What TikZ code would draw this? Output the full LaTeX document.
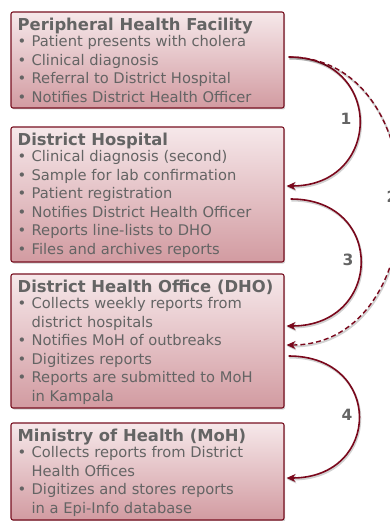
\documentclass[tikz,border=0pt]{standalone}
\usepackage{fontspec}
\setmainfont{DejaVu Sans}
\usetikzlibrary{shadows,arrows.meta,calc}
\definecolor{boxborder}{RGB}{120,16,32}
\definecolor{boxtop}{RGB}{246,232,234}
\definecolor{boxbot}{RGB}{210,155,161}
\definecolor{txt}{RGB}{100,100,100}
\definecolor{arr}{RGB}{122,8,28}
\newcommand{\itm}[1]{\makebox[14pt][l]{•}#1\par}
\newcommand{\cnt}[1]{\hspace*{14pt}#1\par}
\newcommand{\boxtext}[2]{\parbox[t]{300pt}{\parindent=0pt\parskip=0pt{\fontsize{16.4}{18}\bfseries\selectfont #1\par}\vspace{-2.5pt}\fontsize{14.7}{18.5}\selectfont #2}}
\tikzset{
  stage/.style={draw=boxborder, line width=1.1pt, rounded corners=2pt,
    top color=boxtop, bottom color=boxbot, minimum width=273pt, inner sep=0pt,
    drop shadow={shadow xshift=1.2pt, shadow yshift=-1.5pt, opacity=0.35}},
  stagetext/.style={anchor=base west, inner sep=0pt, text=txt},
  flow/.style={draw=arr, line width=1.6pt, -{Stealth[length=9pt,width=8pt]},
    preaction={draw=black, opacity=0.18, line width=2pt, transform canvas={xshift=0.8pt,yshift=-1.5pt}}},
  lbl/.style={font=\bfseries\fontsize{15.5}{15.5}\selectfont, text=txt}
}
\begin{document}
\begin{tikzpicture}[x=1pt,y=-1pt]
\useasboundingbox (0,0) rectangle (390,521);
\clip (0,0) rectangle (390,521);
\node[stage, minimum height=96pt] (b1) at (147.5,60) {};
\node[stage, minimum height=135pt] (b2) at (147.5,194.5) {};
\node[stage, minimum height=134pt] (b3) at (147.5,341) {};
\node[stage, minimum height=97pt] (b4) at (147.5,471.5) {};
\node[stagetext] (t1) at ($(b1.north west)+(7,19.5)$) {\boxtext{Peripheral Health Facility}{%
\itm{Patient presents with cholera}\itm{Clinical diagnosis}\itm{Referral to District Hospital}\itm{Notifies District Health Officer}}};
\node[stagetext] (t2) at ($(b2.north west)+(7,19.5)$) {\boxtext{District Hospital}{%
\itm{Clinical diagnosis (second)}\itm{Sample for lab confirmation}\itm{Patient registration}\itm{Notifies District Health Officer}\itm{Reports line-lists to DHO}\itm{Files and archives reports}}};
\node[stagetext] (t3) at ($(b3.north west)+(7,19.5)$) {\boxtext{District Health Office (DHO)}{%
\itm{Collects weekly reports from}\cnt{district hospitals}\itm{Notifies MoH of outbreaks}\itm{Digitizes reports}\itm{Reports are submitted to MoH}\cnt{in Kampala}}};
\node[stagetext] (t4) at ($(b4.north west)+(7,19.5)$) {\boxtext{Ministry of Health (MoH)}{%
\itm{Collects reports from District}\cnt{Health Offices}\itm{Digitizes and stores reports}\cnt{in a Epi-Info database}}};
\draw[flow] ($(b1.east)+(4,-3)$) .. controls +(96,0) and +(96,0) .. ($(b2.east)+(2,-8.5)$);
\draw[flow, dash pattern=on 5pt off 3pt, line width=1.4pt] ($(b1.east)+(4,-3)$) .. controls +(150,0) and +(150,0) .. ($(b3.east)+(2,4)$);
\draw[flow] ($(b2.east)+(6,4.5)$) .. controls +(96,0) and +(96,0) .. ($(b3.east)+(2,-15)$);
\draw[flow] ($(b3.east)+(4,15)$) .. controls +(95,0) and +(95,0) .. ($(b4.east)+(2,6.5)$);
\node[lbl] (l1) at (346,119) {1};
\node[lbl] (l2) at (392,197) {2};
\node[lbl] (l3) at (348,260) {3};
\node[lbl] (l4) at (347,415) {4};
\end{tikzpicture}
\end{document}
